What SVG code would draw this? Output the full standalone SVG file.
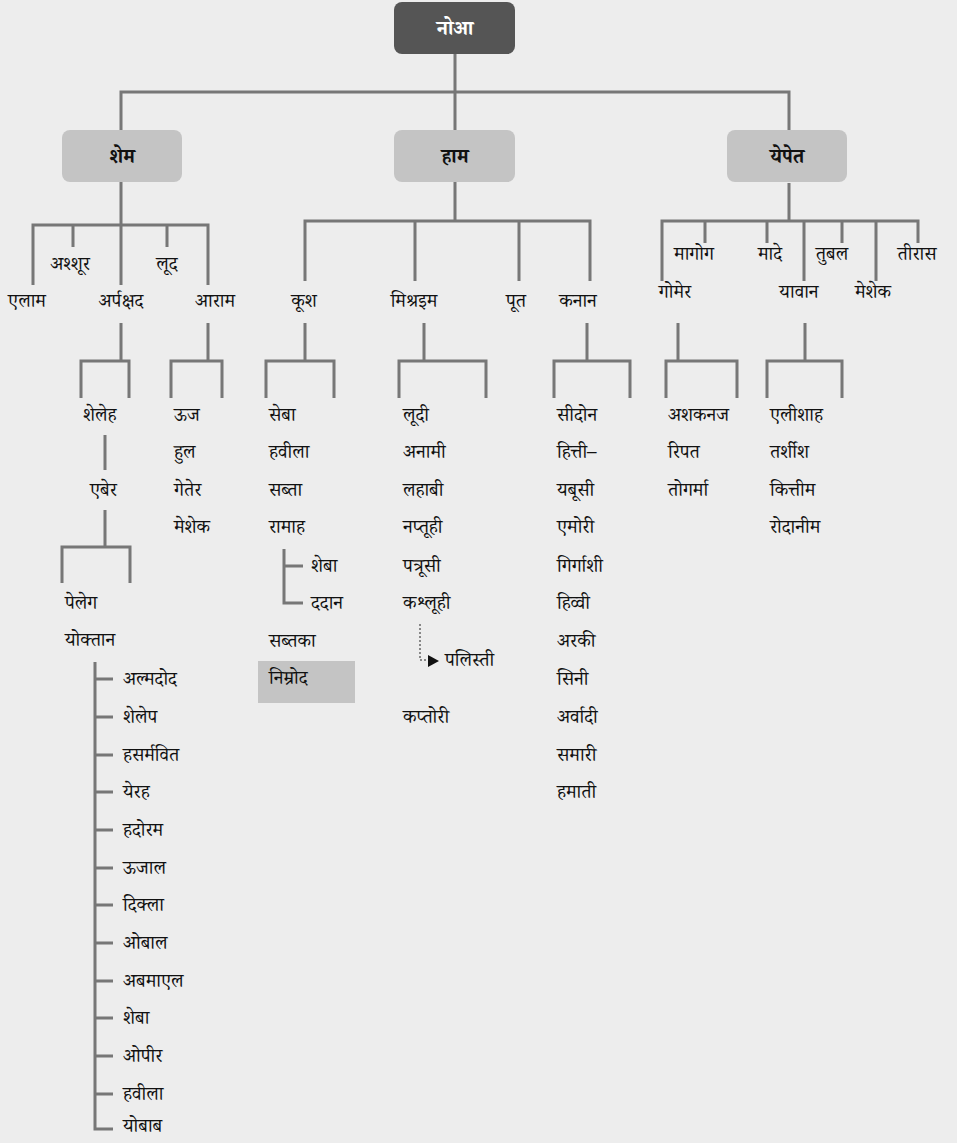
<svg xmlns="http://www.w3.org/2000/svg" width="957" height="1143" viewBox="0 0 957 1143">
<style>
.t{font-family:"Noto Serif Devanagari","Noto Sans Devanagari","Lohit Devanagari","FreeSerif","Noto Sans",serif;font-size:19px;fill:#111}
.c{text-anchor:middle}
.b{font-weight:bold;font-size:20px;text-anchor:middle}
.w{fill:#fff}
.ln{fill:none;stroke:#777;stroke-width:3}
.dot{fill:none;stroke:#888;stroke-width:2;stroke-dasharray:2 2}
.box{fill:#c4c4c4}
</style>
<rect width="957" height="1143" fill="#ededed"/>
<g id="connectors">
<path class="ln" d="M455 54V92M121 130V92H789V130M455 92V130"/>
<path class="ln" d="M121 182V225M33 285V225H208V285M73 225V247M121 225V285M167 225V247"/>
<path class="ln" d="M121 323V361M81 398V361H129V398"/>
<path class="ln" d="M208 323V361M171 398V361H222V398"/>
<path class="ln" d="M105 435V470"/>
<path class="ln" d="M105 510V547M62 583V547H130V583"/>
<path class="ln" d="M95 662V1129H113M95 679H113M95 717H113M95 755H113M95 792H113M95 830H113M95 868H113M95 905H113M95 943H113M95 981H113M95 1018H113M95 1056H113M95 1094H113"/>
<path class="ln" d="M455 182V221M305 281V221H590V281M415 221V281M519 221V281"/>
<path class="ln" d="M305 323V361M266 398V361H334V398"/>
<path class="ln" d="M284 549V603H303M284 566H303"/>
<path class="ln" d="M424 323V361M399 398V361H486V398"/>
<path class="dot" d="M420 624V660H428"/>
<polygon points="428,655 439,661 428,667" fill="#111"/>
<path class="ln" d="M587 323V361M554 398V361H630V398"/>
<path class="ln" d="M789 183V221M662 281V221H918V243M705 221V243M767 221V243M804 221V281M842 221V243M876 221V281"/>
<path class="ln" d="M678 323V361M666 398V361H737V398"/>
<path class="ln" d="M805 323V361M767 398V361H842V398"/>
</g>
<g id="noah"><rect x="394" y="2" width="121" height="52" rx="8" fill="#555"/><text class="t b w" x="455" y="35">नोआ</text></g>
<g id="shem"><rect class="box" x="62" y="130" width="120" height="52" rx="8"/><text class="t b" x="122" y="163">शेम</text></g>
<g id="ham"><rect class="box" x="394" y="130" width="121" height="52" rx="8"/><text class="t b" x="455" y="163">हाम</text></g>
<g id="japheth"><rect class="box" x="727" y="130" width="120" height="52" rx="8"/><text class="t b" x="787" y="163">येपेत</text></g>
<g id="shem-sons">
<text class="t c" x="70" y="270">अश्शूर</text>
<text class="t c" x="27" y="307">एलाम</text>
<text class="t c" x="121" y="307">अर्पक्षद</text>
<text class="t c" x="167" y="270">लूद</text>
<text class="t c" x="215" y="307">आराम</text>
</g>
<g id="ham-sons">
<text class="t c" x="304" y="307">कूश</text>
<text class="t c" x="414" y="307">मिश्रइम</text>
<text class="t c" x="516" y="307">पूत</text>
<text class="t c" x="578" y="307">कनान</text>
</g>
<g id="japheth-sons">
<text class="t c" x="694" y="260">मागोग</text>
<text class="t c" x="770" y="260">मादे</text>
<text class="t c" x="832" y="260">तुबल</text>
<text class="t c" x="917" y="260">तीरास</text>
<text class="t c" x="675" y="298">गोमेर</text>
<text class="t c" x="799" y="298">यावान</text>
<text class="t c" x="873" y="298">मेशेक</text>
</g>
<g id="arpachshad-line">
<text class="t" x="83" y="421">शेलेह</text>
<text class="t" x="90" y="496">एबेर</text>
<text class="t" x="65" y="609">पेलेग</text>
<text class="t" x="65" y="646">योक्तान</text>
</g>
<g id="aram-sons">
<text class="t" x="174" y="421">ऊज</text>
<text class="t" x="174" y="458">हुल</text>
<text class="t" x="174" y="496">गेतेर</text>
<text class="t" x="174" y="533">मेशेक</text>
</g>
<g id="joktan-sons">
<text class="t" x="123" y="685">अल्मदोद</text>
<text class="t" x="123" y="723">शेलेप</text>
<text class="t" x="123" y="761">हसर्मवित</text>
<text class="t" x="123" y="798">येरह</text>
<text class="t" x="123" y="836">हदोरम</text>
<text class="t" x="123" y="874">ऊजाल</text>
<text class="t" x="123" y="911">दिक्ला</text>
<text class="t" x="123" y="949">ओबाल</text>
<text class="t" x="123" y="987">अबमाएल</text>
<text class="t" x="123" y="1024">शेबा</text>
<text class="t" x="123" y="1062">ओपीर</text>
<text class="t" x="123" y="1100">हवीला</text>
<text class="t" x="123" y="1132">योबाब</text>
</g>
<g id="cush-sons">
<text class="t" x="269" y="421">सेबा</text>
<text class="t" x="269" y="458">हवीला</text>
<text class="t" x="269" y="496">सब्ता</text>
<text class="t" x="269" y="533">रामाह</text>
<text class="t" x="311" y="572">शेबा</text>
<text class="t" x="311" y="609">ददान</text>
<text class="t" x="269" y="647">सब्तका</text>
</g>
<g id="nimrod"><rect class="box" x="258" y="661" width="97" height="42"/><text class="t" x="269" y="684">निम्रोद</text></g>
<g id="mizraim-sons">
<text class="t" x="403" y="421">लूदी</text>
<text class="t" x="403" y="458">अनामी</text>
<text class="t" x="403" y="496">लहाबी</text>
<text class="t" x="403" y="533">नप्तूही</text>
<text class="t" x="403" y="572">पत्रूसी</text>
<text class="t" x="403" y="609">कश्लूही</text>
<text class="t" x="445" y="666">पलिस्ती</text>
<text class="t" x="403" y="723">कप्तोरी</text>
</g>
<g id="canaan-sons">
<text class="t" x="557" y="421">सीदोन</text>
<text class="t" x="557" y="458">हित्ती–</text>
<text class="t" x="557" y="496">यबूसी</text>
<text class="t" x="557" y="533">एमोरी</text>
<text class="t" x="557" y="572">गिर्गाशी</text>
<text class="t" x="557" y="609">हिव्वी</text>
<text class="t" x="557" y="647">अरकी</text>
<text class="t" x="557" y="685">सिनी</text>
<text class="t" x="557" y="723">अर्वादी</text>
<text class="t" x="557" y="761">समारी</text>
<text class="t" x="557" y="798">हमाती</text>
</g>
<g id="gomer-sons">
<text class="t" x="668" y="421">अशकनज</text>
<text class="t" x="668" y="458">रिपत</text>
<text class="t" x="668" y="496">तोगर्मा</text>
</g>
<g id="javan-sons">
<text class="t" x="770" y="421">एलीशाह</text>
<text class="t" x="770" y="458">तर्शीश</text>
<text class="t" x="770" y="496">कित्तीम</text>
<text class="t" x="770" y="533">रोदानीम</text>
</g>
</svg>
